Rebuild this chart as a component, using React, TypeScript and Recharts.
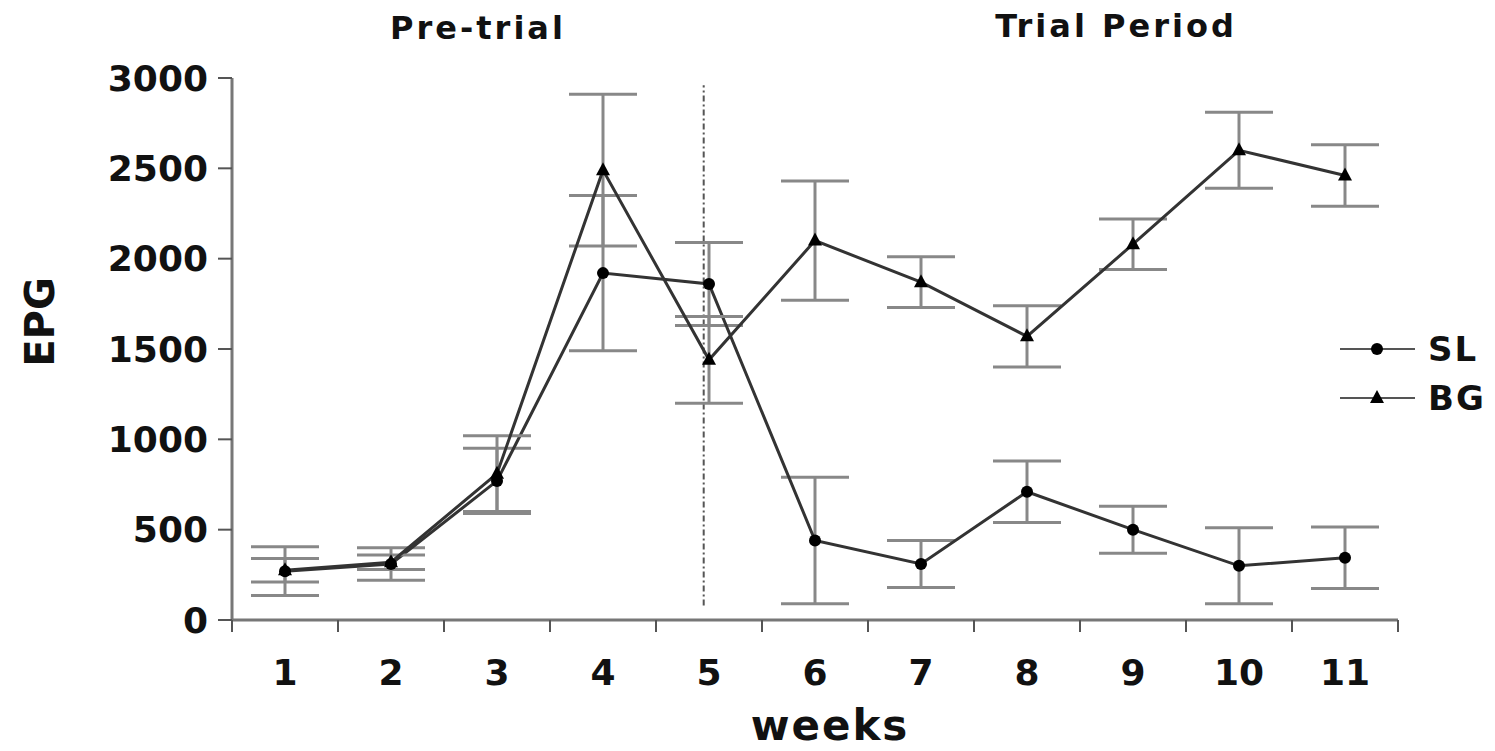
import { LineChart, Line, XAxis, YAxis, ErrorBar, ReferenceLine, Legend } from 'recharts';

// values (mean EPG with error bars)
const weeks = [1, 2, 3, 4, 5, 6, 7, 8, 9, 10, 11];
const slMean = [270, 310, 770, 1920, 1860, 440, 310, 710, 500, 300, 345];
const slErr = [135, 90, 180, 430, 230, 350, 130, 170, 130, 210, 170];
const bgMean = [275, 320, 810, 2490, 1440, 2100, 1870, 1570, 2080, 2600, 2460];
const bgErr = [65, 40, 210, 420, 240, 330, 140, 170, 140, 210, 170];
const yTicks = [0, 500, 1000, 1500, 2000, 2500, 3000];
const seriesNames = ['SL', 'BG'];
const splitWeek = 4.95;

const data = weeks.map((w, i) => ({
    week: w,
    SL: slMean[i],
    slErr: slErr[i],
    BG: bgMean[i],
    bgErr: bgErr[i],
}));

// ticks at the integer weeks (labels) and halfway points (tick marks)
const xTicks = [...weeks.map((w) => w - 0.5), ...weeks, weeks[weeks.length - 1] + 0.5].sort((a, b) => a - b);

const FONT = '"DejaVu Sans", "Liberation Sans", Arial, sans-serif';

const WeekTick = (props: any) => {
    const { x, y, payload } = props;
    if (!Number.isInteger(payload.value)) {
        return <line x1={x} x2={x} y1={y} y2={y + 12} stroke="#555" strokeWidth={2} />;
    }
    return (
        <text x={x} y={y + 65} textAnchor="middle" fontFamily={FONT} fontWeight="bold" fontSize={36} fill="#111">
            {payload.value}
        </text>
    );
};

const CircleDot = (props: any) => {
    const { cx, cy, index } = props;
    return <circle key={`c${index}`} cx={cx} cy={cy} r={6} fill="#000" />;
};

const TriangleDot = (props: any) => {
    const { cx, cy, index } = props;
    return (
        <polygon
            key={`t${index}`}
            points={`${cx},${cy - 8} ${cx - 7},${cy + 5} ${cx + 7},${cy + 5}`}
            fill="#000"
        />
    );
};

const renderLegend = (props: any) => {
    const items = [...props.payload].sort(
        (a: any, b: any) => seriesNames.indexOf(a.value) - seriesNames.indexOf(b.value)
    );
    return (
        <svg width={160} height={100}>
            {items.map((entry: any, i: number) => {
                const cy = 24 + i * 49;
                return (
                    <g key={entry.value}>
                        <line x1={5} x2={80} y1={cy} y2={cy} stroke="#555" strokeWidth={2} />
                        {entry.value === 'SL' ? (
                            <circle cx={42} cy={cy} r={6} fill="#000" />
                        ) : (
                            <polygon points={`42,${cy - 8} 35,${cy + 5} 49,${cy + 5}`} fill="#000" />
                        )}
                        <text x={93} y={cy + 12} fontFamily={FONT} fontWeight="bold" fontSize={34} letterSpacing={2} fill="#111">
                            {entry.value}
                        </text>
                    </g>
                );
            })}
        </svg>
    );
};

export default function App() {
    return (
        <div style={{ position: 'absolute', left: 0, top: 0, width: 1495, height: 751, background: '#fff' }}>
            <LineChart width={1495} height={751} data={data} margin={{ top: 78, right: 97, bottom: 71, left: 92 }}>
                <XAxis
                    dataKey="week"
                    type="number"
                    domain={[0.5, 11.5]}
                    ticks={xTicks}
                    interval={0}
                    tickLine={false}
                    tickSize={0}
                    tickMargin={0}
                    tick={<WeekTick />}
                    axisLine={{ stroke: '#777', strokeWidth: 3 }}
                    height={60}
                />
                <YAxis
                    domain={[0, 3000]}
                    ticks={yTicks}
                    interval={0}
                    width={140}
                    tickSize={14}
                    tickMargin={10}
                    tickLine={{ stroke: '#555', strokeWidth: 2 }}
                    axisLine={{ stroke: '#777', strokeWidth: 3 }}
                    tick={{ fill: '#111', fontFamily: FONT, fontWeight: 'bold', fontSize: 36 }}
                />
                <ReferenceLine
                    segment={[{ x: splitWeek, y: 80 }, { x: splitWeek, y: 2960 }]}
                    stroke="#555"
                    strokeWidth={2}
                    strokeDasharray="6 3 2 3"
                />
                <Line
                    dataKey="SL"
                    name="SL"
                    stroke="#333"
                    strokeWidth={3}
                    dot={CircleDot}
                    activeDot={false}
                    isAnimationActive={false}
                >
                    <ErrorBar dataKey="slErr" width={34} stroke="#888" strokeWidth={3} direction="y" isAnimationActive={false} />
                </Line>
                <Line
                    dataKey="BG"
                    name="BG"
                    stroke="#333"
                    strokeWidth={3}
                    dot={TriangleDot}
                    activeDot={false}
                    isAnimationActive={false}
                >
                    <ErrorBar dataKey="bgErr" width={34} stroke="#888" strokeWidth={3} direction="y" isAnimationActive={false} />
                </Line>
                <Legend
                    layout="vertical"
                    align="center"
                    verticalAlign="middle"
                    content={renderLegend}
                    wrapperStyle={{ left: 1335, top: 325, width: 160, height: 100 }}
                />
                <text x={478} y={39} textAnchor="middle" fontFamily={FONT} fontWeight="bold" fontSize={32} letterSpacing={3} fill="#111">
                    Pre-trial
                </text>
                <text x={1116} y={37} textAnchor="middle" fontFamily={FONT} fontWeight="bold" fontSize={32} letterSpacing={3} fill="#111">
                    Trial Period
                </text>
                <text x={830} y={740} textAnchor="middle" fontFamily={FONT} fontWeight="bold" fontSize={42} letterSpacing={2} fill="#111">
                    weeks
                </text>
                <text
                    x={40}
                    y={322}
                    textAnchor="middle"
                    dominantBaseline="central"
                    transform="rotate(-90 40 322)"
                    fontFamily={FONT}
                    fontWeight="bold"
                    fontSize={40}
                    fill="#111"
                >
                    EPG
                </text>
            </LineChart>
        </div>
    );
}
